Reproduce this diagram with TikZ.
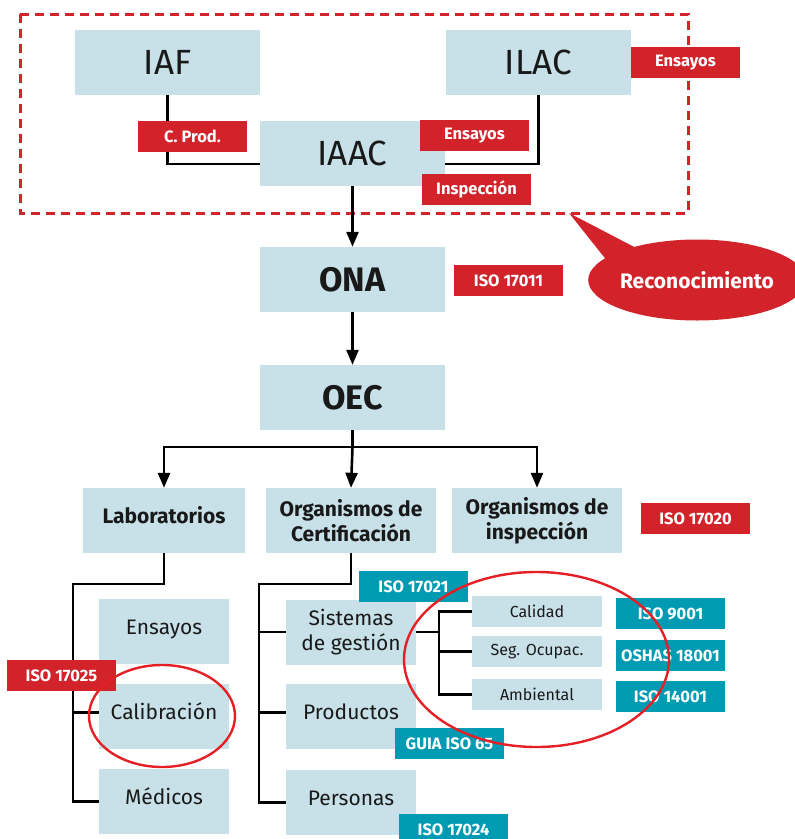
\documentclass[tikz,border=0pt]{standalone}
\usepackage{fontspec}
\setmainfont{Fira Sans}
\usetikzlibrary{arrows.meta,calc,shapes.geometric}
\definecolor{boxblue}{RGB}{200,225,232}
\definecolor{tagred}{RGB}{210,35,42}
\definecolor{ringred}{RGB}{228,32,38}
\definecolor{tagteal}{RGB}{0,155,178}
\definecolor{txt}{RGB}{25,25,25}
\newcommand{\fs}[1]{\fontsize{#1}{#1}\selectfont}
\tikzset{
  box/.style={fill=boxblue, inner sep=0pt, align=center, text=txt},
  bigbox/.style={box, minimum width=185pt, minimum height=65pt},
  midbox/.style={box, minimum width=170pt, minimum height=65pt, font=\bfseries\fs{21}, execute at begin node=\setlength{\baselineskip}{25pt}},
  subbox/.style={box, minimum width=130pt, minimum height=65pt, font=\fs{21}, execute at begin node=\setlength{\baselineskip}{25pt}},
  oneline/.style={text height=15pt, text depth=10pt},
  smallbox/.style={box, minimum width=130pt, minimum height=31pt, font=\fs{16}},
  tag/.style={inner sep=0pt, minimum width=109pt, minimum height=31pt, text=white, font=\bfseries\fs{16.5}},
  redtag/.style={tag, fill=tagred},
  tealtag/.style={tag, fill=tagteal},
  conn/.style={line width=2.6pt, draw=black},
  arr/.style={conn, -{Triangle[length=15pt,width=12pt]}},
  ring/.style={draw=ringred, line width=2.4pt}
}
\begin{document}
\begin{tikzpicture}[x=1pt,y=-1pt]
\useasboundingbox (0,0) rectangle (795,839);
% dashed frame
\draw[tagred, line width=3pt, dash pattern=on 9pt off 6pt] (20,14) rectangle (688,213);
% top boxes
\node[bigbox, font=\fs{35}] (iaf) at (167.5,62.5) {IAF};
\node[bigbox, font=\fs{35}] (ilac) at (538.5,62.5) {ILAC};
\node[bigbox, font=\fs{35}] (iaac) at (352.5,153.5) {IAAC};
\node[bigbox, font=\bfseries\fs{34}] (ona) at (352.5,279.5) {ONA};
\node[bigbox, font=\bfseries\fs{34}] (oec) at (352.5,397.5) {OEC};
% second level
\node[midbox, oneline, minimum width=162pt] (lab) at (164,520.5) {Laboratorios};
\node[midbox] (cert) at (351,520.5) {Organismos de\\Certificación};
\node[midbox] (insp) at (537,520.5) {Organismos de\\inspección};
% lab children
\node[subbox, oneline] (ens) at (164,631.5) {Ensayos};
\node[subbox, oneline] (cal) at (164,716.5) {Calibración};
\node[subbox, oneline] (med) at (164,801.5) {Médicos};
% cert children
\node[subbox] (sis) at (351,632) {Sistemas\\de gestión};
\node[subbox, oneline] (prod) at (351,716.5) {Productos};
\node[subbox, oneline] (pers) at (351,802.5) {Personas};
% systems children
\node[smallbox] (calq) at (537,611.5) {Calidad};
\node[smallbox] (seg) at (537,651.5) {Seg. Ocupac.};
\node[smallbox] (amb) at (537,694.5) {Ambiental};
% connectors top
\draw[conn] (iaf.south) |- ($(iaac.west)+(0,10.5)$);
\draw[conn] (ilac.south) |- ($(iaac.east)+(0,10.5)$);
\draw[arr] (iaac.south) -- (ona.north);
\draw[arr] (ona.south) -- (oec.north);
\coordinate (oecbus) at (352.5,447);
\draw[conn] (oec.south) -- (oecbus);
\draw[arr] (oecbus) -| (lab.north);
\draw[arr] (oecbus) -- (cert.north);
\draw[arr] (oecbus) -| (insp.north);
% lab tree
\coordinate (labbus) at (73,584);
\draw[conn] (lab.south) |- (labbus) |- (med.west);
\draw[conn] ($(cal.west)+(0,-4)$) -- ($(cal.west -| labbus)+(0,-4)$);
% cert tree
\coordinate (certbus) at (259,584);
\draw[conn] (cert.south) |- (certbus) |- (pers.west);
\draw[conn] (sis.west) -- (sis.west -| certbus);
\draw[conn] ($(prod.west)+(0,-4)$) -- ($(prod.west -| certbus)+(0,-4)$);
% systems tree
\coordinate (sisbus) at (439,632);
\draw[conn] (sis.east) -- (sisbus);
\draw[conn] (calq.west) -- (calq.west -| sisbus) -- (amb.west -| sisbus) -- (amb.west);
\draw[conn] (seg.west) -- (seg.west -| sisbus);
% red tags
\node[redtag] (tprod) at (192.5,136.5) {C. Prod.};
\node[redtag] (tens1) at (685.5,62.5) {Ensayos};
\node[redtag] (tens2) at (474.5,135.5) {Ensayos};
\node[redtag] (tinsp) at (476.5,189.5) {Inspección};
\node[redtag] (t17011) at (508.5,280.5) {ISO 17011};
\node[redtag] (t17020) at (695.5,518.5) {ISO 17020};
\node[redtag] (t17025) at (61.5,675.5) {ISO 17025};
% teal tags
\node[tealtag] (t17021) at (413.5,586.5) {ISO 17021};
\node[tealtag] (t65) at (449.5,743.5) {GUIA ISO 65};
\node[tealtag] (t17024) at (453.5,829.5) {ISO 17024};
\node[tealtag] (t9001) at (670.5,613.5) {ISO 9001};
\node[tealtag] (t18001) at (670.5,655.5) {OSHAS 18001};
\node[tealtag] (t14001) at (670.5,696.5) {ISO 14001};
% callout
\fill[tagred] (569,213) -- (608,262) -- (640,250) -- cycle;
\node[ellipse, fill=tagred, minimum width=202pt, minimum height=81pt, inner sep=0pt, text=white, font=\bfseries\fs{21}] (recon) at (697,280) {Reconocimiento};
% rings
\draw[ring] (162,716) ellipse [x radius=73pt, y radius=51pt];
\draw[ring] (536.5,659.5) ellipse [x radius=132.5pt, y radius=87.5pt];
\end{tikzpicture}
\end{document}
